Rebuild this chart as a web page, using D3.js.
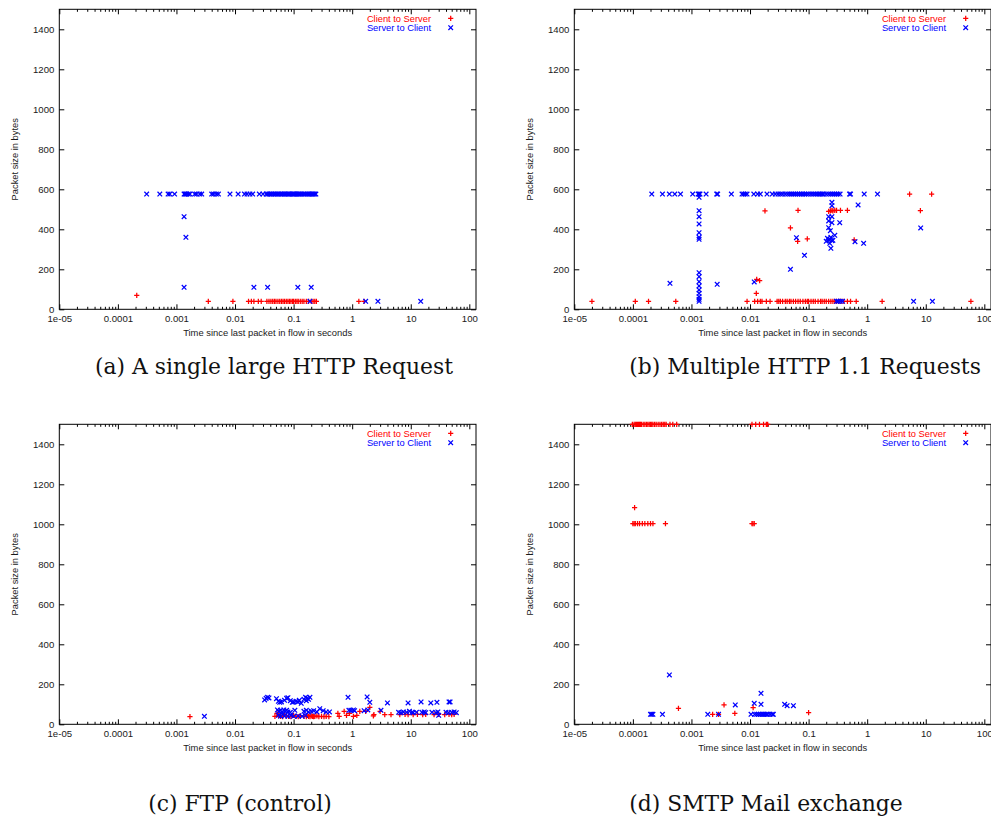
<!DOCTYPE html>
<html>
<head>
<meta charset="utf-8">
<script src="https://cdn.jsdelivr.net/npm/d3@7"></script>
<style>
body { margin: 0; background: #fff; }
svg { display: block; }
</style>
</head>
<body>
<div id="chart"></div>
<script>
// tick values / labels (gnuplot style)
var xTickValues = [1e-5, 1e-4, 1e-3, 1e-2, 1e-1, 1, 10, 100];
var xTickLabels = ["1e-05", "0.0001", "0.001", "0.01", "0.1", "1", "10", "100"];
var yTickValues = [0, 200, 400, 600, 800, 1000, 1200, 1400];
var seriesNames = ["Client to Server", "Server to Client"];
var captions = ["(a) A single large HTTP Request", "(b) Multiple HTTP 1.1 Requests",
                "(c) FTP (control)", "(d) SMTP Mail exchange"];
var xTitle = "Time since last packet in flow in seconds";
var yTitle = "Packet size in bytes";

// [seconds since last packet, packet size in bytes]
var httpSingleClient = [[2.1e-4,70],[3.5e-3,40],[9.2e-3,40],[0.017,40],[0.019,40],[0.021,40],[0.025,40],[0.028,40],
  [0.035,40],[0.038,40],[0.041,40],[0.044,40],[0.047,40],[0.05,40],[0.054,40],[0.058,40],[0.062,40],[0.066,40],
  [0.07,40],[0.075,40],[0.08,40],[0.085,40],[0.09,40],[0.096,40],[0.1,40],[0.107,40],[0.114,40],[0.12,40],
  [0.13,40],[0.14,40],[0.15,40],[0.165,40],[0.18,40],[0.2,40],[0.215,40],[0.23,40],[0.245,40],[1.3,40],[1.6,40]];
var httpSingleServer = [[3.1e-4,576],[5.2e-4,576],[7.2e-4,576],[7.7e-4,576],[9.3e-4,576],[1.35e-3,576],[1.4e-3,576],
  [1.45e-3,576],[1.5e-3,576],[1.6e-3,576],[1.7e-3,576],[2.05e-3,576],[2.2e-3,576],[2.5e-3,576],[2.7e-3,576],
  [4.0e-3,576],[4.3e-3,576],[4.8e-3,576],[5.2e-3,576],[8.2e-3,576],[0.0113,576],[0.0145,576],[0.016,576],
  [0.018,576],[0.02,576],[0.026,576],[0.03,576],[0.034,576],[0.036,576],[0.038,576],[0.04,576],[0.042,576],
  [0.045,576],[0.048,576],[0.05,576],[0.053,576],[0.056,576],[0.06,576],[0.063,576],[0.066,576],[0.07,576],
  [0.074,576],[0.078,576],[0.082,576],[0.086,576],[0.09,576],[0.095,576],[0.1,576],[0.105,576],[0.11,576],
  [0.115,576],[0.12,576],[0.126,576],[0.132,576],[0.14,576],[0.15,576],[0.16,576],[0.17,576],[0.18,576],
  [0.19,576],[0.2,576],[0.21,576],[0.22,576],[0.23,576],[0.24,576],
  [1.35e-3,463],[1.45e-3,360],[1.35e-3,110],[0.021,110],[0.036,110],[0.118,110],[0.2,110],
  [0.19,40],[1.7,40],[2.75,40],[14.8,40]];

var httpMultiClient = [[2e-5,40],[1.1e-4,40],[1.85e-4,40],[5.4e-4,40],[8.9e-3,40],[0.012,40],[0.0135,40],[0.015,40],
  [0.016,40],[0.019,40],[0.022,40],[0.029,40],[0.031,40],[0.033,40],[0.036,40],[0.04,40],[0.043,40],[0.047,40],
  [0.05,40],[0.055,40],[0.06,40],[0.066,40],[0.072,40],[0.08,40],[0.088,40],[0.095,40],[0.1,40],[0.11,40],
  [0.12,40],[0.13,40],[0.145,40],[0.16,40],[0.17,40],[0.185,40],[0.2,40],[0.22,40],[0.24,40],[0.26,40],
  [0.28,40],[0.3,40],[0.33,40],[0.36,40],[0.4,40],[0.46,40],[0.52,40],[0.65,40],[1.8,40],[59,40],
  [0.018,492],[0.066,495],[0.22,490],[0.235,492],[0.25,495],[0.26,492],[0.28,495],[0.3,495],[0.35,495],[0.46,495],
  [0.049,407],[0.065,340],[0.095,352],[0.013,150],[0.0146,143],[0.0128,80],[0.6,347],
  [5.3,576],[12.6,576],[8.1,493]];
var httpMultiServer = [[2.1e-4,576],[3.2e-4,576],[4.2e-4,576],[5.2e-4,576],[6.5e-4,576],[1.05e-3,576],[1.3e-3,576],
  [1.35e-3,576],[1.4e-3,576],[1.78e-3,576],[2.7e-3,576],[2.8e-3,576],[4.8e-3,576],[7.3e-3,576],[7.8e-3,576],
  [8.3e-3,576],[8.9e-3,576],[0.0116,576],[0.0135,576],[0.015,576],[0.0195,576],[0.024,576],[0.027,576],
  [0.03,576],[0.033,576],[0.036,576],[0.04,576],[0.044,576],[0.048,576],[0.052,576],[0.056,576],[0.06,576],
  [0.065,576],[0.07,576],[0.075,576],[0.08,576],[0.086,576],[0.092,576],[0.1,576],[0.11,576],[0.12,576],
  [0.13,576],[0.14,576],[0.15,576],[0.16,576],[0.17,576],[0.18,576],[0.2,576],[0.22,576],[0.24,576],
  [0.26,576],[0.28,576],[0.3,576],[0.32,576],[0.345,576],[0.5,576],[0.52,576],[0.89,576],[1.5,576],
  [1.35e-3,560],[1.35e-3,493],[1.35e-3,463],[1.35e-3,427],[1.35e-3,383],[1.35e-3,360],[1.35e-3,350],
  [1.35e-3,183],[1.35e-3,163],[1.35e-3,138],[1.35e-3,117],[1.35e-3,97],[1.35e-3,80],[1.35e-3,63],
  [1.35e-3,50],[1.35e-3,40],
  [4.3e-4,130],[2.75e-3,125],[0.0118,137],[0.049,200],[0.085,270],[0.062,358],
  [0.25,535],[0.25,518],[0.22,442],[0.22,463],[0.25,463],[0.25,433],[0.235,393],[0.22,408],[0.21,355],
  [0.22,347],[0.25,343],[0.23,330],[0.24,305],[0.28,370],[0.34,433],[0.2,340],[0.23,350],[0.26,345],
  [0.24,360],[0.62,338],[0.7,522],[0.87,330],[8.2,407],[6.2,40],[13,40],
  [0.3,40],[0.32,40],[0.35,40],[0.38,40]];

var ftpClient = [[1.7e-3,38],[0.048,40],[0.052,55],[0.055,45],[0.06,40],[0.065,38],[0.07,50],[0.075,42],
  [0.082,40],[0.09,38],[0.1,45],[0.11,40],[0.12,38],[0.13,42],[0.15,40],[0.165,38],[0.17,45],[0.18,40],
  [0.19,38],[0.2,42],[0.21,40],[0.22,38],[0.23,40],[0.25,42],[0.27,38],[0.3,40],[0.33,38],[0.36,40],[0.4,38],
  [0.57,55],[0.6,40],[0.73,65],[0.8,45],[0.9,55],[1.05,40],[1.2,45],[1.35,65],[1.7,65],[2.0,85],[2.3,42],
  [2.35,48],[3.0,65],[3.6,48],[4.6,48],[6.5,48],[8,50],[9,48],[11,48],[13,50],[16,48],[18,50],[25,48],
  [30,50],[38,48],[45,50],[50,48],[55,50]];
var ftpServer = [[3.0e-3,40],
  [0.032,122],[0.034,130],[0.036,135],[0.038,132],[0.051,128],[0.055,115],[0.058,110],[0.062,112],[0.07,120],
  [0.076,130],[0.08,133],[0.088,118],[0.095,110],[0.1,112],[0.11,115],[0.118,112],[0.125,120],[0.135,105],
  [0.15,125],[0.16,135],[0.165,118],[0.17,130],[0.18,125],[0.19,135],
  [0.053,72],[0.056,65],[0.06,70],[0.064,60],[0.068,72],[0.072,65],[0.076,70],[0.08,62],[0.088,60],
  [0.105,70],[0.15,65],[0.165,70],[0.18,62],[0.2,65],[0.22,68],[0.25,62],[0.28,78],[0.32,68],[0.36,62],
  [0.41,62],
  [0.055,45],[0.06,40],[0.065,50],[0.07,42],[0.08,40],[0.09,45],[0.1,40],[0.12,42],[0.14,40],[0.16,45],
  [0.85,135],[0.88,70],[0.95,70],[1.05,72],[1.1,68],[1.6,68],[1.8,137],[1.85,72],[2.0,110],[3.1,70],
  [4.0,107],[6.2,60],[6.8,58],[7.5,62],[8.5,60],[9,107],[9.5,65],[10.5,60],[11,58],[12.5,60],[15,112],
  [15.5,60],[17,62],[18,58],[22,107],[23,60],[27,58],[28,110],[29,62],[30,45],[40,60],[44,58],[45,112],
  [47,112],[50,60],[55,62],[60,58]];

var smtpClient = [[9.8e-5,1500],[1.05e-4,1500],[1.1e-4,1500],[1.15e-4,1500],[1.2e-4,1500],[1.25e-4,1500],
  [1.3e-4,1500],[1.35e-4,1500],[1.4e-4,1500],[1.5e-4,1500],[1.6e-4,1500],[1.7e-4,1500],[1.8e-4,1500],
  [1.9e-4,1500],[2e-4,1500],[2.1e-4,1500],[2.2e-4,1500],[2.35e-4,1500],[2.5e-4,1500],[2.7e-4,1500],
  [2.9e-4,1500],[3.1e-4,1500],[3.3e-4,1500],[3.5e-4,1500],[3.7e-4,1500],[4.3e-4,1500],[4.8e-4,1500],
  [5.6e-4,1500],[0.0108,1500],[0.0125,1500],[0.0145,1500],[0.017,1500],[0.019,1500],[0.02,1500],
  [1e-4,1003],[1.05e-4,1003],[1.1e-4,1003],[1.2e-4,1003],[1.3e-4,1003],[1.45e-4,1003],[1.6e-4,1003],
  [1.8e-4,1003],[2e-4,1003],[2.2e-4,1003],[3.6e-4,1003],[0.0108,1003],[0.0112,1003],[0.0118,1003],
  [1.07e-4,1083],
  [6e-4,80],[2.3e-3,50],[2.9e-3,50],[3.6e-3,97],[5.5e-3,55],[0.0113,83],[0.1,58]];
var smtpServer = [[4.2e-4,247],[2e-4,50],[2.1e-4,50],[2.2e-4,50],[3.2e-4,50],[1.9e-3,50],[2.9e-3,50],
  [0.0104,50],[0.012,50],[0.013,50],[0.014,50],[0.015,50],[0.016,50],[0.017,50],[0.018,50],[0.019,50],
  [0.02,50],[0.022,50],[0.024,50],[0.025,50],
  [5.6e-3,97],[0.0118,105],[0.0154,155],[0.0154,100],[0.039,100],[0.043,93],[0.055,93]];

var clientSets = [httpSingleClient, httpMultiClient, ftpClient, smtpClient];
var serverSets = [httpSingleServer, httpMultiServer, ftpServer, smtpServer];

// layout
var plotW = 416.7, plotH = 300;
var origins = [[59.3, 9.3], [574.3, 9.3], [59.3, 424.3], [574.3, 424.3]];
var captionPos = [[274, 374], [805, 374], [240, 811], [766, 811]];

var red = "#ff0000", blue = "#0000ff";
var font = "'Liberation Sans', Arial, Helvetica, sans-serif";

var svg = d3.select("#chart").append("svg")
    .attr("width", 991)
    .attr("height", 821);

var x = d3.scaleLog().domain([1e-5, 130]).range([0, plotW]);
var y = d3.scaleLinear().domain([0, 1500]).range([plotH, 0]);

// minor ticks for the log axis
var xMinor = [];
for (var e = -5; e < 3; e++) {
    for (var m = 2; m < 10; m++) {
        var v = m * Math.pow(10, e);
        if (v < 130) xMinor.push(v);
    }
}

function plusPath(s) { return "M" + (-s) + ",0H" + s + "M0," + (-s) + "V" + s; }
function crossPath(s) { return "M" + (-s) + "," + (-s) + "L" + s + "," + s + "M" + (-s) + "," + s + "L" + s + "," + (-s); }

function styleAxis(g) {
    g.select(".domain").remove();
    g.selectAll("line").attr("stroke", "#000").attr("stroke-width", 1);
    g.selectAll("text").attr("fill", "#1a1a1a").style("font-family", font).style("font-size", "9.6px");
}

origins.forEach(function (o, i) {
    var g = svg.append("g")
        .attr("transform", "translate(" + o[0] + "," + o[1] + ")");

    // bottom axis + mirror on top
    g.append("g")
        .attr("transform", "translate(0," + plotH + ")")
        .call(d3.axisBottom(x).tickValues(xTickValues)
            .tickFormat(function (d, k) { return xTickLabels[k]; })
            .tickSize(-5).tickPadding(6))
        .call(styleAxis);
    g.append("g")
        .attr("transform", "translate(0," + plotH + ")")
        .call(d3.axisBottom(x).tickValues(xMinor).tickFormat("").tickSize(-2.5))
        .call(styleAxis);
    g.append("g")
        .call(d3.axisTop(x).tickValues(xTickValues).tickFormat("").tickSize(-5))
        .call(styleAxis);
    g.append("g")
        .call(d3.axisTop(x).tickValues(xMinor).tickFormat("").tickSize(-2.5))
        .call(styleAxis);

    // left axis + mirror on right
    g.append("g")
        .call(d3.axisLeft(y).tickValues(yTickValues).tickFormat(d3.format("d"))
            .tickSize(-5).tickPadding(5))
        .call(styleAxis);
    g.append("g")
        .attr("transform", "translate(" + plotW + ",0)")
        .call(d3.axisRight(y).tickValues(yTickValues).tickFormat("").tickSize(-5))
        .call(styleAxis);

    g.append("rect")
        .attr("width", plotW)
        .attr("height", plotH)
        .attr("fill", "none")
        .attr("stroke", "#000")
        .attr("stroke-width", 1);

    // points
    g.selectAll(".client")
        .data(clientSets[i])
        .enter().append("path")
        .attr("class", "client")
        .attr("d", plusPath(2.6))
        .attr("transform", function (d) { return "translate(" + x(d[0]) + "," + y(d[1]) + ")"; })
        .attr("stroke", red)
        .attr("stroke-width", 1.25)
        .attr("fill", "none");

    g.selectAll(".server")
        .data(serverSets[i])
        .enter().append("path")
        .attr("class", "server")
        .attr("d", crossPath(2.3))
        .attr("transform", function (d) { return "translate(" + x(d[0]) + "," + y(d[1]) + ")"; })
        .attr("stroke", blue)
        .attr("stroke-width", 1.25)
        .attr("fill", "none");

    // legend
    var leg = g.append("g");
    [red, blue].forEach(function (c, k) {
        leg.append("text")
            .attr("x", plotW - 45)
            .attr("y", 9 + k * 9.4)
            .attr("dy", "0.35em")
            .attr("text-anchor", "end")
            .style("font-family", font)
            .style("font-size", "9.3px")
            .attr("fill", c)
            .text(seriesNames[k]);
        leg.append("path")
            .attr("d", k === 0 ? plusPath(2.6) : crossPath(2.3))
            .attr("transform", "translate(" + (plotW - 25.3) + "," + (9 + k * 9.4) + ")")
            .attr("stroke", c)
            .attr("stroke-width", 1.25)
            .attr("fill", "none");
    });

    // axis titles
    g.append("text")
        .attr("x", plotW / 2)
        .attr("y", plotH + 27)
        .attr("text-anchor", "middle")
        .style("font-family", font)
        .style("font-size", "9.4px")
        .attr("fill", "#1a1a1a")
        .text(xTitle);
    g.append("text")
        .attr("transform", "translate(-41," + (plotH / 2) + ") rotate(-90)")
        .attr("text-anchor", "middle")
        .style("font-family", font)
        .style("font-size", "9.3px")
        .attr("fill", "#1a1a1a")
        .text(yTitle);
});

// captions, sized so the first one spans the same width as in the paper
var capText = svg.selectAll(".caption")
    .data(captions)
    .enter().append("text")
    .attr("class", "caption")
    .attr("x", function (d, i) { return captionPos[i][0]; })
    .attr("y", function (d, i) { return captionPos[i][1]; })
    .attr("text-anchor", "middle")
    .style("font-family", "'DejaVu Serif', 'Liberation Serif', serif")
    .style("font-size", "18px")
    .attr("fill", "#111")
    .text(function (d) { return d; });

var w0 = capText.node().getComputedTextLength();
capText.style("font-size", (18 * 358 / w0).toFixed(2) + "px");
</script>
</body>
</html>
